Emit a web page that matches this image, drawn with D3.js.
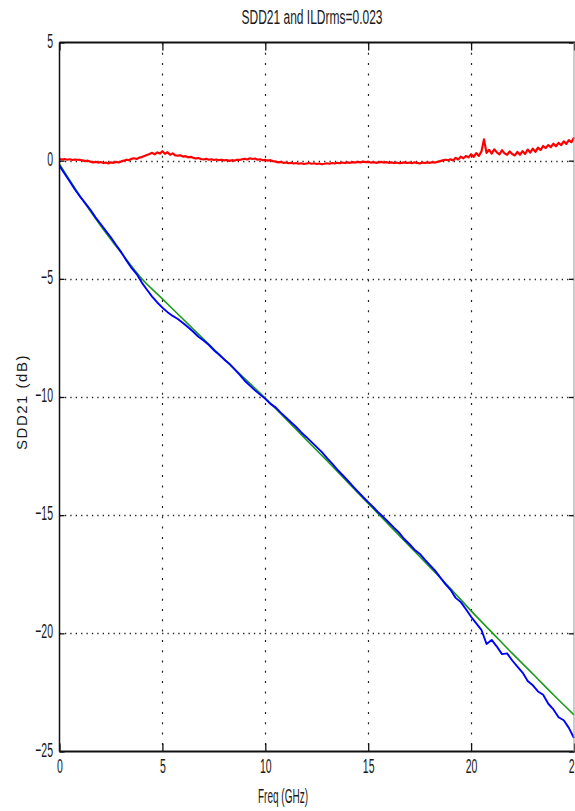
<!DOCTYPE html>
<html>
<head>
<meta charset="utf-8">
<script src="https://cdn.jsdelivr.net/npm/d3@7/dist/d3.min.js"></script>
<style>
  html, body { margin: 0; padding: 0; background: #fff; }
  svg { display: block; }
  text { font-family: "Liberation Sans", Arial, Helvetica, sans-serif; fill: #1a1a1a; }
</style>
</head>
<body>
<svg id="chart" width="575" height="811"></svg>
<script>
// Axis tick values
const xTicks = [0, 5, 10, 15, 20, 25];
const yTicks = [5, 0, -5, -10, -15, -20, -25];
const titleText = "SDD21 and ILDrms=0.023";
const xLabel = "Freq (GHz)";
const yLabel = "SDD21 (dB)";

// Fitted insertion loss (green), one value per GHz, 0..25 GHz
const fitFreq = [0,1,2,3,4,5,6,7,8,9,10,11,12,13,14,15,16,17,18,19,20,21,22,23,24,25];
const fitLoss = [-0.15,-1.50,-2.75,-3.90,-5.00,-5.85,-6.70,-7.55,-8.40,-9.22,-10.05,-10.93,-11.82,
                 -12.70,-13.60,-14.50,-15.40,-16.30,-17.20,-18.10,-19.05,-19.95,-20.85,-21.72,-22.60,-23.45];

// Measured SDD21 (blue), sampled every 0.25 GHz
const measuredSdd21 = [
  -0.22, -0.55, -0.88, -1.22,
  -1.52, -1.80, -2.08, -2.40,
  -2.68, -2.97, -3.25, -3.57,
  -3.87, -4.22, -4.54, -4.80,
  -5.16, -5.46, -5.75, -6.00,
  -6.22, -6.41, -6.57, -6.70,
  -6.87, -7.05, -7.24, -7.45,
  -7.61, -7.79, -8.02, -8.20,
  -8.41, -8.59, -8.82, -9.05,
  -9.31, -9.52, -9.72, -9.90,
  -10.08, -10.29, -10.44, -10.66,
  -10.86, -11.07, -11.27, -11.50,
  -11.70, -11.91, -12.12, -12.33,
  -12.59, -12.82, -13.07, -13.30,
  -13.53, -13.77, -14.00, -14.23,
  -14.45, -14.66, -14.89, -15.09,
  -15.31, -15.53, -15.74, -16.01,
  -16.22, -16.46, -16.63, -16.88,
  -17.11, -17.35, -17.63, -17.92,
  -18.16, -18.50, -18.68, -18.98,
  -19.30, -19.58, -19.85, -20.45,
  -20.28, -20.56, -20.88, -20.85,
  -21.15, -21.41, -21.66, -22.02,
  -22.20, -22.46, -22.60, -22.98,
  -23.22, -23.55, -23.68, -24.00,
  -24.43
];

// Insertion loss deviation (red), sampled every 0.125 GHz
const ildValues = [
  0.08, 0.05, 0.07, 0.04, 0.06, 0.03, 0.05, 0.04,
  0.03, 0.01, -0.02, 0.00, -0.04, -0.07, -0.05, -0.08,
  -0.06, -0.10, -0.08, -0.12, -0.07, -0.09, -0.05, -0.08,
  -0.03, 0.00, 0.04, 0.02, 0.08, 0.10, 0.07, 0.13,
  0.15, 0.20, 0.24, 0.28, 0.33, 0.27, 0.35, 0.30,
  0.40, 0.29, 0.36, 0.25, 0.31, 0.22, 0.21, 0.23,
  0.17, 0.19, 0.14, 0.16, 0.12, 0.09, 0.11, 0.07,
  0.05, 0.08, 0.04, 0.06, 0.03, 0.05, 0.02, 0.04,
  0.01, 0.03, -0.01, 0.02, 0.00, 0.04, 0.03, 0.06,
  0.08, 0.05, 0.10, 0.07, 0.09, 0.04, 0.06, 0.02,
  0.03, 0.00, 0.02, -0.02, -0.04, -0.07, -0.05, -0.09,
  -0.08, -0.11, -0.09, -0.12, -0.10, -0.13, -0.11, -0.14,
  -0.12, -0.10, -0.13, -0.11, -0.14, -0.12, -0.15, -0.13,
  -0.11, -0.13, -0.10, -0.12, -0.09, -0.11, -0.08, -0.10,
  -0.07, -0.09, -0.06, -0.08, -0.05, -0.07, -0.04, -0.06,
  -0.05, -0.08, -0.06, -0.09, -0.07, -0.05, -0.08, -0.06,
  -0.09, -0.07, -0.10, -0.08, -0.11, -0.09, -0.07, -0.10,
  -0.08, -0.11, -0.07, -0.09, -0.12, -0.08, -0.10, -0.07,
  -0.09, -0.06, -0.08, -0.05, -0.02, 0.01, 0.04, 0.02,
  0.06, 0.01, 0.12, 0.05, 0.17, 0.10, 0.20, 0.14,
  0.27, 0.16, 0.32, 0.20, 0.38, 0.90, 0.33, 0.46,
  0.30, 0.48, 0.35, 0.27, 0.44, 0.31, 0.25, 0.39,
  0.28, 0.22, 0.37, 0.25, 0.40, 0.28, 0.47, 0.34,
  0.51, 0.37, 0.55, 0.45, 0.62, 0.53, 0.66, 0.57,
  0.72, 0.61, 0.75, 0.66, 0.82, 0.71, 0.87, 0.78,
  0.98
];

const svg = d3.select("#chart");
svg.append("rect").attr("width", 575).attr("height", 811).attr("fill", "#fff");

const plot = { left: 59.5, right: 574, top: 42.5, bottom: 751.5 };
const x = d3.scaleLinear().domain([0, 25]).range([plot.left, plot.right]);
const y = d3.scaleLinear().domain([-25, 5]).range([plot.bottom, plot.top]);

// Dotted grid
const grid = svg.append("g").attr("stroke", "#222").attr("fill", "none");
grid.selectAll("line.vg").data(xTicks.slice(1, -1)).join("line")
  .attr("class", "vg")
  .attr("x1", d => Math.round(x(d)) + 0.5).attr("x2", d => Math.round(x(d)) + 0.5)
  .attr("y1", plot.top).attr("y2", plot.bottom)
  .attr("stroke-width", 1.2).attr("stroke-dasharray", "2,8.3");
grid.selectAll("line.hg").data(yTicks.slice(1, -1)).join("line")
  .attr("class", "hg")
  .attr("x1", plot.left).attr("x2", plot.right)
  .attr("y1", d => Math.round(y(d)) + 0.5).attr("y2", d => Math.round(y(d)) + 0.5)
  .attr("stroke-width", 1.3).attr("stroke-dasharray", "1.3,4.1");

// Series
const redFreq = d3.range(ildValues.length).map(i => i * 0.125);
const blueFreq = d3.range(measuredSdd21.length).map(i => i * 0.25);

svg.append("path")
  .datum(fitFreq.map((f, i) => [f, fitLoss[i]]))
  .attr("fill", "none").attr("stroke", "#1a9a1a").attr("stroke-width", 1.6)
  .attr("d", d3.line().x(d => x(d[0])).y(d => y(d[1])).curve(d3.curveMonotoneX));

svg.append("path")
  .datum(blueFreq.map((f, i) => [f, measuredSdd21[i]]))
  .attr("fill", "none").attr("stroke", "#0000ff").attr("stroke-width", 1.9)
  .attr("stroke-linejoin", "round")
  .attr("d", d3.line().x(d => x(d[0])).y(d => y(d[1])));

svg.append("path")
  .datum(redFreq.map((f, i) => [f, ildValues[i]]))
  .attr("fill", "none").attr("stroke", "#ff0000").attr("stroke-width", 2.2)
  .attr("stroke-linejoin", "round")
  .attr("d", d3.line().x(d => x(d[0])).y(d => y(d[1])));

// Axes with inward ticks
const condensed = "scale(0.5,1)";
const fontSize = 21;

const xAxisB = svg.append("g").attr("transform", `translate(0,${plot.bottom})`)
  .call(d3.axisBottom(x).tickValues(xTicks).tickSizeInner(-8).tickSizeOuter(0));
const xAxisT = svg.append("g").attr("transform", `translate(0,${plot.top})`)
  .call(d3.axisTop(x).tickValues(xTicks).tickSizeInner(-8).tickSizeOuter(0).tickFormat(""));
const yAxisL = svg.append("g").attr("transform", `translate(${plot.left},0)`)
  .call(d3.axisLeft(y).tickValues(yTicks).tickSizeInner(-5).tickSizeOuter(0));
const yAxisR = svg.append("g").attr("transform", `translate(${plot.right},0)`)
  .call(d3.axisRight(y).tickValues(yTicks).tickSizeInner(-5).tickSizeOuter(0).tickFormat(""));

[xAxisB, xAxisT, yAxisL, yAxisR].forEach(g => {
  g.select(".domain").remove();
  g.selectAll(".tick line").attr("stroke", "#111").attr("stroke-width", 1.3);
});

xAxisB.selectAll(".tick text")
  .attr("y", 21.5).attr("dy", 0)
  .attr("font-size", fontSize).attr("fill", "#1a1a1a")
  .attr("font-family", "Liberation Sans, Arial, sans-serif")
  .attr("transform", condensed);

yAxisL.selectAll(".tick text")
  .attr("x", -13).attr("dy", 0).attr("y", 4.5)
  .attr("font-size", fontSize).attr("fill", "#1a1a1a")
  .attr("font-family", "Liberation Sans, Arial, sans-serif")
  .attr("transform", condensed);

// Frame
svg.append("line").attr("x1", plot.left).attr("x2", plot.right + 1)
  .attr("y1", plot.top).attr("y2", plot.top).attr("stroke", "#111").attr("stroke-width", 2);
svg.append("line").attr("x1", plot.left).attr("x2", plot.right + 1)
  .attr("y1", plot.bottom).attr("y2", plot.bottom).attr("stroke", "#111").attr("stroke-width", 2);
svg.append("line").attr("x1", plot.left).attr("x2", plot.left)
  .attr("y1", plot.top).attr("y2", plot.bottom).attr("stroke", "#111").attr("stroke-width", 1.5);
svg.append("line").attr("x1", plot.right).attr("x2", plot.right)
  .attr("y1", plot.top).attr("y2", plot.bottom).attr("stroke", "#999").attr("stroke-width", 1);

// Title and axis labels
svg.append("text")
  .attr("transform", "translate(312,24) scale(0.6,1)")
  .attr("text-anchor", "middle").attr("font-size", 20)
  .text(titleText);

svg.append("text")
  .attr("transform", "translate(283,803) scale(0.5,1)")
  .attr("text-anchor", "middle").attr("font-size", 20)
  .text(xLabel);

svg.append("text")
  .attr("transform", "translate(27,402) rotate(-90)")
  .attr("text-anchor", "middle").attr("font-size", 15)
  .attr("letter-spacing", 1.5)
  .text(yLabel);
</script>
</body>
</html>
